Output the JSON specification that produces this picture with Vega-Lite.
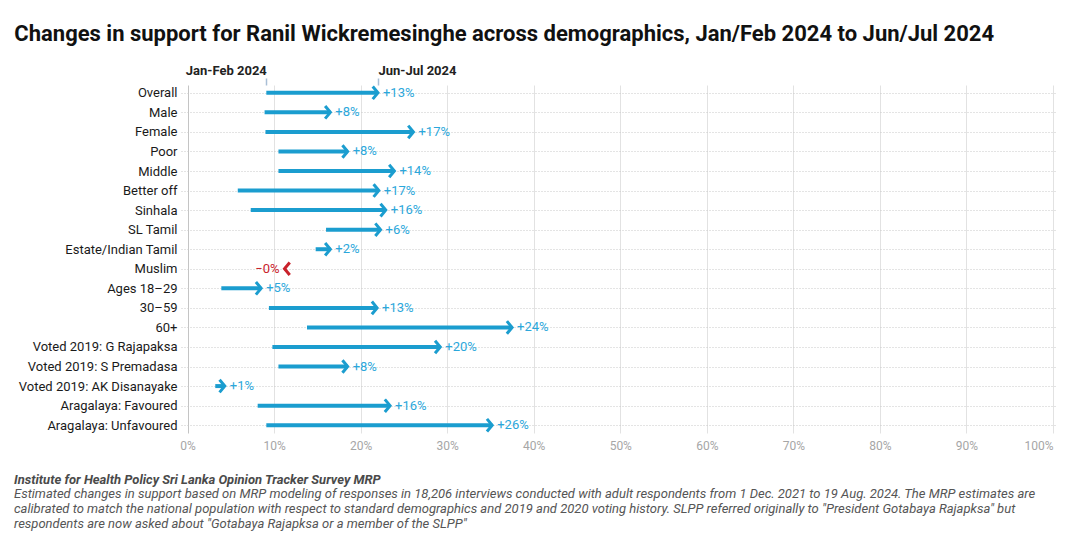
{
  "$schema": "https://vega.github.io/schema/vega-lite/v6.json",
  "padding": {"left": 14, "top": 23, "right": 3, "bottom": 4},
  "config": {
    "view": {"stroke": null},
    "font": "Roboto",
    "concat": {"spacing": 22}
  },
  "datasets": {
    "rows": [
      {"group": "Overall", "start": 9.1, "end": 22.0, "label": "+13%"},
      {"group": "Male", "start": 8.9, "end": 16.5, "label": "+8%"},
      {"group": "Female", "start": 9.0, "end": 26.1, "label": "+17%"},
      {"group": "Poor", "start": 10.5, "end": 18.5, "label": "+8%"},
      {"group": "Middle", "start": 10.5, "end": 23.9, "label": "+14%"},
      {"group": "Better off", "start": 5.8, "end": 22.1, "label": "+17%"},
      {"group": "Sinhala", "start": 7.3, "end": 22.9, "label": "+16%"},
      {"group": "SL Tamil", "start": 16.0, "end": 22.3, "label": "+6%"},
      {"group": "Estate/Indian Tamil", "start": 14.8, "end": 16.5, "label": "+2%"},
      {"group": "Muslim", "start": 11.4, "end": 11.2, "label": "−0%"},
      {"group": "Ages 18–29", "start": 3.9, "end": 8.5, "label": "+5%"},
      {"group": "30–59", "start": 9.4, "end": 21.9, "label": "+13%"},
      {"group": "60+", "start": 13.8, "end": 37.5, "label": "+24%"},
      {"group": "Voted 2019: G Rajapaksa", "start": 9.8, "end": 29.2, "label": "+20%"},
      {"group": "Voted 2019: S Premadasa", "start": 10.5, "end": 18.5, "label": "+8%"},
      {"group": "Voted 2019: AK Disanayake", "start": 3.2, "end": 4.3, "label": "+1%"},
      {"group": "Aragalaya: Favoured", "start": 8.1, "end": 23.4, "label": "+16%"},
      {"group": "Aragalaya: Unfavoured", "start": 9.1, "end": 35.2, "label": "+26%"}
    ]
  },
  "vconcat": [
    {
      "title": {
        "text": "Changes in support for Ranil Wickremesinghe across demographics, Jan/Feb 2024 to Jun/Jul 2024",
        "anchor": "start",
        "frame": "bounds",
        "fontSize": 22,
        "fontWeight": "bold",
        "color": "#111111",
        "font": "Roboto",
        "dx": -4,
        "offset": 18
      },
      "width": 875,
      "height": 348,
      "data": {"name": "rows"},
      "resolve": {"axis": {"x": "independent"}},
      "layer": [
        {
          "mark": {"type": "rule", "strokeWidth": 4},
          "encoding": {
            "y": {
              "field": "group", "type": "nominal", "sort": null, "title": null,
              "scale": {"type": "point", "padding": 0.4, "domain": ["Overall", "Male", "Female", "Poor", "Middle", "Better off", "Sinhala", "SL Tamil", "Estate/Indian Tamil", "Muslim", "Ages 18–29", "30–59", "60+", "Voted 2019: G Rajapaksa", "Voted 2019: S Premadasa", "Voted 2019: AK Disanayake", "Aragalaya: Favoured", "Aragalaya: Unfavoured"]},
              "axis": {"ticks": false, "domain": false, "labelFontSize": 13, "labelColor": "#1a1a1a", "labelPadding": 4, "grid": true, "gridDash": [1, 2], "gridColor": "#c8c8c8", "gridWidth": 1, "title": null}
            },
            "x": {
              "field": "start", "type": "quantitative", "title": null,
              "scale": {"domain": [-0.76, 100.35], "nice": false, "zero": false},
              "axis": {"orient": "bottom", "values": [0, 10, 20, 30, 40, 50, 60, 70, 80, 90, 100], "labelExpr": "datum.value + '%'", "labelAlign": {"expr": "datum.value == 100 ? 'right' : 'center'"}, "labelFlush": false, "labelOverlap": false, "labelFontSize": 12, "labelColor": "#a6a6a6", "ticks": false, "domain": false, "grid": true, "gridColor": {"condition": {"test": "datum.value == 0", "value": "#c4c4c4"}, "value": "#e2e2e2"}, "gridWidth": 1, "labelPadding": 7, "title": null}
            },
            "x2": {"field": "end"},
            "color": {"condition": {"test": "datum.end < datum.start", "value": "#c9222b"}, "value": "#1b9dcf"}
          }
        },
        {
          "mark": {"type": "point", "shape": "M-1,-1.2L0,0L-1,1.2", "filled": false, "strokeWidth": 3, "size": 110, "opacity": 1, "strokeJoin": "miter", "strokeCap": "butt"},
          "encoding": {
            "x": {"field": "end", "type": "quantitative", "axis": null},
            "y": {"field": "group", "type": "nominal", "sort": null},
            "angle": {"condition": {"test": "datum.end < datum.start", "value": 180}, "value": 0},
            "color": {"condition": {"test": "datum.end < datum.start", "value": "#c9222b"}, "value": "#1b9dcf"}
          }
        },
        {
          "transform": [{"filter": "datum.end >= datum.start"}],
          "mark": {"type": "text", "align": "left", "dx": 5, "fontSize": 13, "color": "#2ba7db"},
          "encoding": {
            "x": {
              "field": "end", "type": "quantitative", "title": null,
              "axis": {"orient": "top", "values": [9.1, 22.0], "labelExpr": "datum.value < 15 ? 'Jan-Feb 2024' : 'Jun-Jul 2024'", "labelAlign": {"expr": "datum.value < 15 ? 'right' : 'left'"}, "labelFlush": false, "labelOverlap": false, "labelFontWeight": "bold", "labelFontSize": 13, "labelColor": "#222222", "ticks": true, "tickSize": 7, "tickColor": "#a9bfd6", "tickWidth": 1.5, "domain": false, "grid": false, "labelPadding": 1, "title": null}
            },
            "y": {"field": "group", "type": "nominal", "sort": null},
            "text": {"field": "label"}
          }
        },
        {
          "transform": [{"filter": "datum.end < datum.start"}],
          "mark": {"type": "text", "align": "right", "dx": -5, "fontSize": 13, "color": "#c9222b"},
          "encoding": {
            "x": {"field": "end", "type": "quantitative", "axis": null},
            "y": {"field": "group", "type": "nominal", "sort": null},
            "text": {"field": "label"}
          }
        }
      ]
    },
    {
      "width": 875,
      "height": 1,
      "title": {
        "text": "Institute for Health Policy Sri Lanka Opinion Tracker Survey MRP",
        "subtitle": [
          "Estimated changes in support based on MRP modeling of responses in 18,206 interviews conducted with adult respondents from 1 Dec. 2021 to 19 Aug. 2024. The MRP estimates are",
          "calibrated to match the national population with respect to standard demographics and 2019 and 2020 voting history. SLPP referred originally to \"President Gotabaya Rajapksa\" but",
          "respondents are now asked about \"Gotabaya Rajapksa or a member of the SLPP\""
        ],
        "anchor": "start",
        "frame": "group",
        "dx": -167,
        "fontSize": 13,
        "fontWeight": "bold",
        "fontStyle": "italic",
        "color": "#4a4a4a",
        "subtitleFontSize": 13,
        "subtitleFontStyle": "italic",
        "subtitleColor": "#555555",
        "subtitleLineHeight": 15,
        "subtitlePadding": 1,
        "offset": 0
      },
      "data": {"values": [{}]},
      "mark": {"type": "text"},
      "encoding": {"text": {"value": ""}}
    }
  ]
}
